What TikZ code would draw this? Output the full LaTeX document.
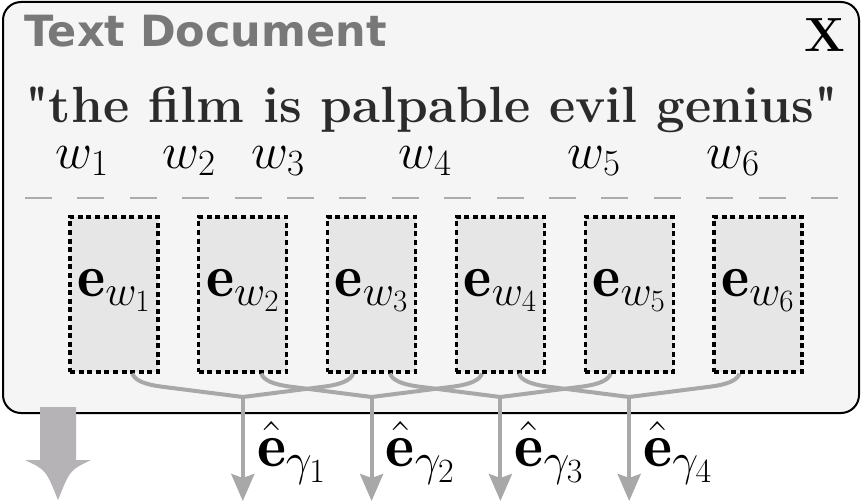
\RequirePackage{fix-cm}
\documentclass[tikz,border=0pt]{standalone}
\usepackage{fontspec}
\newfontfamily\tdfont{DejaVu Sans}
\newfontfamily\sentfont{Latin Modern Roman}
\usetikzlibrary{arrows.meta,calc}
\DeclareMathSizes{51}{51}{37}{27}
\DeclareMathSizes{60}{60}{43}{31}
\DeclareMathSizes{62}{62}{46}{34}
\definecolor{boxbg}{HTML}{F5F5F5}
\definecolor{embbg}{HTML}{E6E6E6}
\definecolor{conn}{HTML}{A8A8A8}
\definecolor{dashgray}{HTML}{ABABAB}
\definecolor{bigarr}{HTML}{B5B3B5}
\definecolor{tdgray}{HTML}{787878}
\definecolor{sent}{HTML}{2B2B2B}
\tikzset{
  docbox/.style={draw=black, line width=2pt, fill=boxbg, rounded corners=18pt,
    minimum width=856pt, minimum height=411pt, inner sep=0pt, outer sep=0pt},
  embbox/.style={draw=black, line width=3.2pt, dash pattern=on 5pt off 3.6pt,
    fill=embbg, minimum width=88pt, minimum height=155pt, inner sep=0pt, outer sep=0pt},
  wlabel/.style={anchor=base, inner sep=0pt, font=\fontsize{51}{56}\selectfont},
  elabel/.style={anchor=base, inner sep=0pt, font=\fontsize{60}{66}\selectfont},
  glabel/.style={anchor=base west, inner sep=0pt, font=\fontsize{62}{68}\selectfont},
  connector/.style={draw=conn, line width=4pt},
  connarrow/.style={draw=conn, line width=4pt, -{Stealth[length=27pt,width=23pt,inset=4pt]}},
}
\begin{document}
\begin{tikzpicture}[x=1pt,y=-1pt]
\useasboundingbox (0,0) rectangle (863,503);
\node[docbox, anchor=north west] (doc) at (3,2) {};
\node[anchor=base west, inner sep=0pt, text=tdgray,
  font=\tdfont\bfseries\fontsize{43}{48}\selectfont] (title) at (24,47) {Text Document};
\node[anchor=base east, inner sep=0pt, font=\bfseries\fontsize{48}{54}\selectfont] (close) at (845,52) {X};
\node[anchor=base, inner sep=0pt, text=sent, font=\sentfont\bfseries\fontsize{51}{56}\selectfont] (sent) at (431.5,122) {"the film is palpable evil genius"};
\foreach \i/\x in {1/82,2/189,3/278,4/425,5/594,6/733}
  \node[wlabel] (w\i) at (\x,168) {$w_{\i}$};
\coordinate (dashL) at (25,198);
\coordinate (dashR) at (838,198);
\draw[dashgray, line width=2pt, dash pattern=on 27pt off 25.4pt] (dashL) -- (dashR);
\foreach \i/\x in {1/114,2/242.8,3/371.6,4/500.4,5/629.2,6/758}{
  \node[embbox] (b\i) at (\x,294.5) {};
  \node[elabel] (l\i) at ([yshift=-1.5pt]b\i.center) {$\mathbf{e}_{w_{\i}}$};
}
\coordinate (jy) at (0,397);
\coordinate (ty) at (0,501);
\coordinate (gy) at (0,466);
\foreach \k/\m/\r in {1/2/3,2/3/4,3/4/5,4/5/6}{
  \coordinate (j\k) at (b\m.south |- jy);
  \coordinate (t\k) at (b\m.south |- ty);
  \draw[connector] ($(b\k.south)+(18.5,1.5)$) .. controls ($(b\k.south)+(20.5,8.5)$) and ($(b\k.south)+(31.5,12.5)$) .. ($(b\k.south)+(46.5,14.5)$) -- (j\k);
  \draw[connector] ($(b\r.south)+(-18.5,1.5)$) .. controls ($(b\r.south)+(-20.5,8.5)$) and ($(b\r.south)+(-31.5,12.5)$) .. ($(b\r.south)+(-46.5,14.5)$) -- (j\k);
  \draw[connarrow] ($(j\k)+(0,-2)$) -- (t\k);
  \node[glabel] (g\k) at ($(j\k |- gy)+(14,0)$) {$\hat{\mathbf{e}}_{\gamma_{\k}}$};
}
\fill[bigarr] (40,407) -- (76,407) -- (76,460) -- (91,460) .. controls (70,470) .. (58,500) .. controls (46,470) .. (25,460) -- (40,460) -- cycle;
\end{tikzpicture}
\end{document}
